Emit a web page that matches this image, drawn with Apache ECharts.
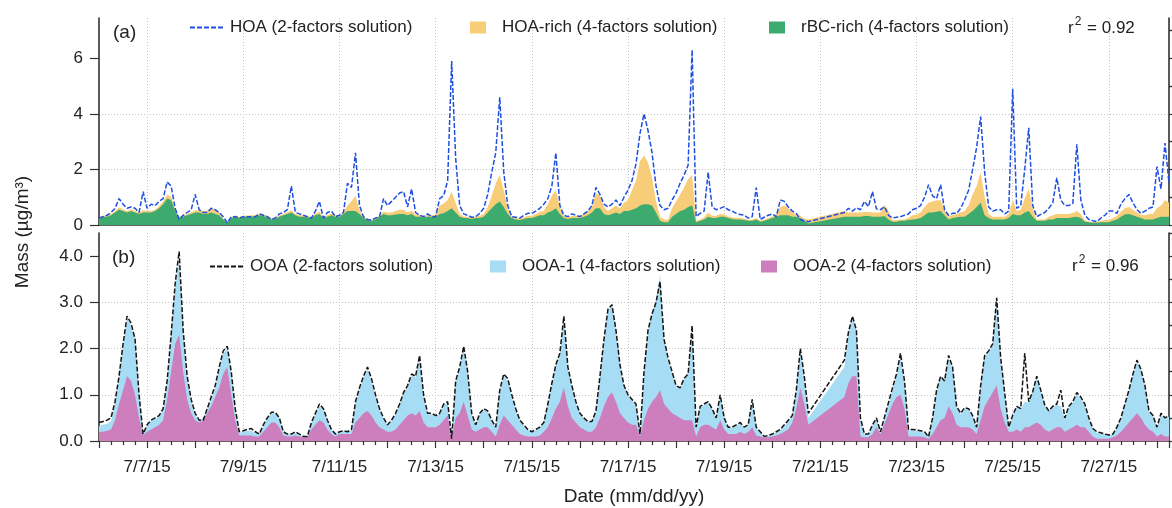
<!DOCTYPE html>
<html><head><meta charset="utf-8">
<script src="https://cdn.jsdelivr.net/npm/echarts@6/dist/echarts.min.js"></script>
<style>html,body{margin:0;padding:0;background:#fff}#c{width:1172px;height:508px}</style>
</head><body><div id="c"></div>
<script>
// x positions: days since 7/1/15 00:00; samples every 2 hours from 7/6/15 00:00
const START_DAY = 5;
const STEP_DAYS = 1 / 12;
const X_MIN = 5, X_MAX = 27.25;
const xTickLabels = ['7/7/15','7/9/15','7/11/15','7/13/15','7/15/15','7/17/15','7/19/15','7/21/15','7/23/15','7/25/15','7/27/15'];
const xTickDays = [6,8,10,12,14,16,18,20,22,24,26];
const yTicksA = [0,2,4,6];
const yTicksB = [0,1,2,3,4];

// Panel (a): HOA from 2-factor solution (ug/m3)
const hoa2f = [
0.25,0.3,0.35,0.45,0.6,0.95,0.75,0.6,0.65,0.6,0.45,1.2,
0.6,0.75,0.7,0.85,0.95,1.55,1.4,0.6,0.2,0.35,0.45,0.55,
1.1,0.55,0.45,0.45,0.6,0.55,0.45,0.3,0.08,0.3,0.3,0.25,
0.3,0.3,0.3,0.3,0.4,0.35,0.3,0.2,0.25,0.4,0.45,0.55,
1.4,0.45,0.4,0.35,0.3,0.25,0.5,0.85,0.25,0.45,0.5,0.3,
0.35,0.45,1.5,1.35,2.6,0.7,0.3,0.2,0.18,0.25,0.3,0.95,
0.7,0.85,1.0,1.15,1.2,0.65,1.3,0.45,0.35,0.3,0.4,0.3,
0.3,0.95,1.05,1.6,5.9,2.4,0.7,0.4,0.35,0.28,0.3,0.42,
0.6,1.1,1.9,2.6,4.6,1.9,0.7,0.3,0.28,0.25,0.35,0.42,
0.42,0.5,0.6,0.75,0.95,1.4,2.6,0.7,0.35,0.3,0.4,0.35,
0.3,0.4,0.5,0.7,1.35,1.1,0.75,0.65,0.75,0.9,0.7,1.0,
1.25,1.6,2.2,3.3,4.0,3.4,2.6,1.4,0.7,0.55,0.6,0.9,
1.15,1.5,1.8,2.15,6.3,0.3,0.42,0.5,1.9,0.65,0.55,0.6,
0.66,0.55,0.5,0.42,0.38,0.35,0.25,0.3,1.35,0.2,0.28,0.35,
0.4,0.3,0.9,0.85,0.65,0.5,0.42,0.2,0.15,0.12,null,null,
null,null,null,null,null,null,0.45,0.6,0.5,0.62,0.55,0.85,
0.66,1.2,0.58,0.55,0.66,0.35,0.25,0.28,0.3,0.35,0.4,0.55,
0.6,0.7,1.0,1.45,1.05,0.95,1.45,0.55,0.35,0.42,0.42,0.6,
0.9,1.25,2.0,2.8,3.9,1.9,0.65,0.5,0.55,0.55,0.4,0.5,
4.9,0.6,0.7,2.0,3.5,0.7,0.3,0.38,0.45,0.6,0.8,1.7,
0.9,0.7,0.7,0.78,2.9,0.9,0.35,0.2,0.15,0.12,0.25,0.35,
0.5,0.5,0.42,0.75,0.95,1.1,0.8,0.55,0.42,0.5,0.6,0.65,
2.1,1.3,2.95,1.5
];
// HOA-rich (4-factor)
const hoaRich = [
0.03,0.03,0.04,0.05,0.05,0.08,0.06,0.05,0.06,0.05,0.05,0.08,
0.05,0.05,0.05,0.08,0.1,0.15,0.12,0.08,0.05,0.05,0.05,0.06,
0.08,0.08,0.1,0.12,0.18,0.15,0.1,0.05,0.02,0.04,0.05,0.04,
0.04,0.04,0.05,0.05,0.06,0.06,0.05,0.04,0.04,0.05,0.05,0.06,
0.08,0.05,0.05,0.05,0.04,0.04,0.06,0.08,0.04,0.05,0.06,0.05,
0.05,0.08,0.2,0.35,0.55,0.15,0.05,0.03,0.03,0.04,0.05,0.08,
0.1,0.1,0.12,0.15,0.15,0.1,0.12,0.08,0.06,0.05,0.06,0.06,
0.06,0.3,0.35,0.4,0.6,0.35,0.1,0.06,0.05,0.05,0.06,0.08,
0.1,0.2,0.45,0.75,0.95,0.6,0.2,0.06,0.05,0.05,0.06,0.08,
0.08,0.1,0.12,0.15,0.3,0.55,0.65,0.25,0.08,0.06,0.07,0.07,
0.07,0.1,0.15,0.2,0.55,0.45,0.25,0.15,0.2,0.25,0.2,0.3,
0.4,0.7,1.0,1.6,1.75,1.5,1.0,0.4,0.15,0.1,0.1,0.3,
0.45,0.6,0.8,1.0,1.1,0.05,0.05,0.08,0.15,0.08,0.08,0.1,
0.08,0.06,0.06,0.05,0.05,0.05,0.04,0.04,0.05,0.03,0.04,0.05,
0.06,0.1,0.3,0.35,0.25,0.15,0.1,0.08,0.08,0.15,null,null,
null,null,null,null,null,null,0.2,0.15,0.15,0.15,0.15,0.15,
0.15,0.15,0.15,0.15,0.4,0.3,0.05,0.05,0.05,0.05,0.08,0.15,
0.15,0.2,0.3,0.35,0.4,0.4,0.4,0.2,0.1,0.12,0.12,0.15,
0.2,0.3,0.6,0.75,1.1,0.65,0.15,0.1,0.1,0.1,0.1,0.15,
0.5,0.15,0.2,0.5,0.8,0.3,0.05,0.05,0.05,0.1,0.15,0.15,
0.15,0.15,0.15,0.15,0.2,0.15,0.05,0.03,0.03,0.03,0.05,0.08,
0.08,0.1,0.12,0.18,0.22,0.25,0.2,0.15,0.12,0.15,0.2,0.2,
0.35,0.4,0.6,0.5
];
// rBC-rich (4-factor)
const rbcRich = [
0.25,0.3,0.3,0.35,0.45,0.55,0.5,0.45,0.5,0.45,0.4,0.45,
0.45,0.45,0.5,0.6,0.75,0.95,0.9,0.5,0.25,0.3,0.35,0.4,
0.45,0.45,0.4,0.4,0.45,0.4,0.35,0.2,0.08,0.25,0.3,0.25,
0.3,0.3,0.3,0.3,0.35,0.32,0.28,0.2,0.22,0.3,0.35,0.4,
0.45,0.35,0.3,0.3,0.28,0.25,0.35,0.4,0.25,0.3,0.35,0.3,
0.3,0.4,0.5,0.5,0.5,0.4,0.25,0.18,0.15,0.2,0.3,0.4,
0.35,0.35,0.38,0.4,0.4,0.35,0.4,0.3,0.3,0.28,0.3,0.3,
0.3,0.4,0.42,0.5,0.6,0.45,0.3,0.25,0.25,0.22,0.25,0.25,
0.3,0.45,0.6,0.75,0.85,0.65,0.4,0.25,0.2,0.18,0.22,0.25,
0.25,0.3,0.35,0.35,0.45,0.5,0.6,0.4,0.25,0.22,0.25,0.25,
0.25,0.3,0.35,0.45,0.6,0.6,0.4,0.35,0.4,0.45,0.4,0.5,
0.5,0.55,0.6,0.7,0.75,0.75,0.7,0.45,0.15,0.1,0.1,0.3,
0.4,0.5,0.55,0.65,0.7,0.1,0.15,0.2,0.3,0.25,0.25,0.3,
0.3,0.25,0.22,0.2,0.2,0.18,0.15,0.15,0.2,0.12,0.15,0.2,
0.25,0.3,0.35,0.35,0.35,0.3,0.3,0.25,0.15,0.05,null,null,
null,null,null,null,null,null,0.3,0.3,0.3,0.3,0.3,0.32,
0.32,0.3,0.3,0.3,0.32,0.2,0.12,0.12,0.15,0.15,0.18,0.2,
0.22,0.25,0.35,0.45,0.45,0.48,0.5,0.35,0.2,0.25,0.28,0.3,
0.3,0.4,0.5,0.65,0.8,0.35,0.25,0.2,0.2,0.2,0.2,0.25,
0.4,0.35,0.35,0.45,0.5,0.3,0.15,0.15,0.15,0.2,0.2,0.25,
0.25,0.25,0.25,0.28,0.3,0.25,0.12,0.1,0.08,0.08,0.1,0.1,
0.1,0.15,0.2,0.3,0.38,0.4,0.35,0.3,0.25,0.2,0.2,0.2,
0.25,0.3,0.3,0.3
];
// Panel (b): OOA from 2-factor solution
const ooa2f = [
0.4,0.42,0.45,0.5,0.85,1.4,2.1,2.7,2.55,2.2,1.0,0.15,
0.35,0.45,0.5,0.55,0.7,1.3,2.3,3.4,4.1,2.4,1.4,0.9,
0.6,0.45,0.45,0.7,0.95,1.2,1.6,1.95,2.05,1.5,0.7,0.2,
0.22,0.25,0.27,0.2,0.15,0.35,0.5,0.62,0.62,0.5,0.2,0.15,
0.15,0.2,0.15,0.1,0.1,0.4,0.6,0.8,0.7,0.45,0.25,0.15,
0.2,0.22,0.2,0.25,0.85,1.15,1.4,1.6,1.35,1.0,0.7,0.5,
0.35,0.45,0.6,0.8,1.05,1.2,1.45,1.4,1.85,1.0,0.6,0.6,
0.55,0.6,0.8,0.85,0.05,1.3,1.6,2.05,1.5,0.6,0.35,0.6,
0.7,0.65,0.45,0.3,1.1,1.45,1.35,1.0,0.7,0.45,0.35,0.25,
0.2,0.25,0.3,0.4,0.8,1.25,1.65,1.9,2.7,1.6,1.2,0.85,
0.6,0.5,0.42,0.42,0.65,1.4,2.2,2.85,2.95,2.4,1.65,1.2,
1.0,0.9,0.8,0.15,1.5,2.4,2.75,3.0,3.45,2.2,1.8,1.5,
1.2,1.15,1.35,1.45,2.5,0.3,0.75,0.8,0.85,0.7,0.5,1.0,
0.5,0.3,0.3,0.35,0.4,0.3,0.35,0.9,0.3,0.2,0.1,0.12,
0.15,0.2,0.25,0.35,0.45,0.55,1.1,2.0,1.4,0.6,null,null,
null,null,null,null,null,null,1.75,2.35,2.7,2.4,0.5,0.15,
0.15,0.35,0.5,0.2,null,null,1.15,1.45,1.9,1.3,0.25,0.25,
0.24,0.22,0.2,0.09,0.5,1.1,1.4,1.3,1.85,1.6,0.75,0.6,
0.72,0.7,0.55,0.3,1.2,1.85,1.95,2.1,3.1,1.8,1.04,0.3,
0.56,0.75,0.7,1.9,0.85,1.07,1.4,1.1,0.78,0.65,0.75,0.8,
1.1,0.5,0.75,0.85,1.05,0.95,0.8,0.5,0.27,0.2,0.18,0.15,
0.13,0.15,0.3,0.5,0.8,1.1,1.45,1.75,1.55,1.2,0.65,0.55,
0.3,0.6,0.5,0.55
];
// OOA-1 (4-factor)
const ooa1 = [
0.12,0.15,0.15,0.18,0.35,0.55,0.95,1.25,1.2,1.15,0.45,0.05,
0.12,0.18,0.18,0.18,0.22,0.35,0.75,1.2,1.6,0.85,0.45,0.25,
0.1,0.05,0.05,0.08,0.15,0.2,0.4,0.45,0.4,0.45,0.2,0.05,
0.08,0.1,0.1,0.08,0.05,0.12,0.18,0.2,0.2,0.18,0.06,0.04,
0.04,0.06,0.04,0.02,0.02,0.14,0.22,0.3,0.28,0.18,0.08,0.05,
0.05,0.06,0.05,0.08,0.4,0.6,0.75,0.9,0.75,0.55,0.38,0.23,
0.14,0.24,0.33,0.43,0.57,0.62,0.82,0.82,1.15,0.55,0.28,0.28,
0.24,0.24,0.33,0.28,0,0.75,0.95,1.15,0.9,0.33,0.14,0.33,
0.38,0.33,0.23,0.18,0.7,0.85,0.85,0.62,0.43,0.28,0.22,0.14,
0.09,0.14,0.17,0.19,0.48,0.72,0.92,1.02,1.5,0.82,0.68,0.43,
0.28,0.24,0.21,0.21,0.33,0.87,1.42,1.87,1.92,1.52,1.02,0.68,
0.58,0.53,0.43,0.05,1.02,1.67,1.9,2.1,2.5,1.38,1.08,0.88,
0.63,0.63,0.88,0.98,2.0,0.18,0.42,0.43,0.48,0.38,0.23,0.52,
0.23,0.13,0.13,0.18,0.18,0.13,0.13,0.55,0.16,0.08,0.02,0.03,
0.04,0.06,0.08,0.12,0.18,0.13,0.35,0.8,0.55,0.15,null,null,
null,null,null,null,null,null,0.65,1.05,1.3,1.0,0.35,0.06,
0.06,0.18,0.18,0.05,null,null,0.3,0.45,0.85,0.55,0.13,0.13,
0.12,0.1,0.1,0.03,0.33,0.77,0.92,0.78,1.05,0.95,0.38,0.28,
0.4,0.38,0.28,0.13,0.72,1.08,1.02,1.02,1.8,1.05,0.6,0.08,
0.33,0.48,0.48,0.55,0.53,0.7,0.98,0.73,0.5,0.43,0.48,0.48,
0.45,0.28,0.48,0.53,0.68,0.62,0.48,0.28,0.15,0.13,0.12,0.1,
0.07,0.07,0.16,0.28,0.48,0.68,0.92,1.12,1.02,0.82,0.38,0.33,
0.18,0.42,0.38,0.43
];
// OOA-2 (4-factor)
const ooa2 = [
0.2,0.2,0.22,0.25,0.45,0.8,1.1,1.4,1.3,1.0,0.5,0.12,
0.2,0.25,0.3,0.35,0.45,0.9,1.5,2.1,2.3,1.5,0.9,0.6,
0.45,0.4,0.45,0.6,0.75,0.95,1.15,1.45,1.6,1.0,0.45,0.12,
0.12,0.12,0.12,0.1,0.1,0.2,0.3,0.4,0.4,0.3,0.12,0.1,
0.1,0.12,0.1,0.08,0.08,0.25,0.35,0.45,0.4,0.25,0.15,0.1,
0.15,0.15,0.15,0.15,0.4,0.5,0.6,0.65,0.55,0.4,0.3,0.25,
0.2,0.2,0.25,0.35,0.45,0.55,0.6,0.55,0.65,0.4,0.3,0.3,
0.3,0.35,0.45,0.55,0.05,0.5,0.6,0.85,0.55,0.25,0.2,0.25,
0.3,0.3,0.2,0.1,0.35,0.55,0.45,0.35,0.25,0.15,0.12,0.1,
0.1,0.1,0.12,0.2,0.3,0.5,0.7,0.85,1.15,0.75,0.5,0.4,
0.3,0.25,0.2,0.2,0.3,0.5,0.75,0.95,1.05,0.85,0.6,0.5,
0.4,0.35,0.35,0.1,0.45,0.7,0.85,0.95,1.1,0.8,0.7,0.6,
0.55,0.5,0.45,0.45,0.45,0.1,0.3,0.35,0.35,0.3,0.25,0.45,
0.25,0.15,0.15,0.15,0.2,0.15,0.2,0.3,0.12,0.1,0.08,0.08,
0.1,0.12,0.15,0.2,0.25,0.4,0.7,1.15,0.8,0.35,null,null,
null,null,null,null,null,null,0.95,1.25,1.4,1.4,0.1,0.08,
0.08,0.15,0.3,0.15,null,null,0.8,0.95,1.0,0.7,0.1,0.1,
0.1,0.1,0.08,0.05,0.15,0.3,0.45,0.5,0.75,0.6,0.35,0.3,
0.3,0.3,0.25,0.15,0.45,0.75,0.9,1.05,1.2,0.7,0.4,0.2,
0.2,0.25,0.2,0.3,0.3,0.35,0.4,0.35,0.25,0.2,0.25,0.3,
0.3,0.2,0.25,0.3,0.35,0.3,0.3,0.2,0.1,0.05,0.05,0.05,
0.05,0.08,0.12,0.2,0.3,0.4,0.5,0.6,0.5,0.35,0.25,0.2,
0.1,0.15,0.1,0.1
];

const C = {
  hoa: '#1f4fe2', hoaRich: '#f7cd7a', rbc: '#3dab6d',
  ooa: '#141414', ooa1: '#a6dcf4', ooa2: '#cd7ebd',
  axis: '#333333', text: '#222222', grid: '#c4c4c4'
};
const FONT = 'Liberation Sans, Arial, Helvetica, sans-serif';

// sampling gaps (null) are left out, so the line and areas bridge them straight
function pts(arr) {
  const out = [];
  arr.forEach((v, i) => { if (v !== null) out.push([START_DAY + i * STEP_DAYS, v]); });
  return out;
}
// stacked table for the areas: upper factor is drawn on top of the lower one
function stackOn(upper, lower) {
  return upper.map((v, i) => (v === null || lower[i] === null) ? null : +(v + lower[i]).toFixed(3));
}

const axisLineStyle = { color: C.axis, width: 1.6 };
const tickLineStyle = { color: C.axis, width: 1.2 };
const gridLine = { type: [1, 2], color: C.grid, width: 1 };

function xAxisFor(gi, withLabels) {
  return {
    type: 'value', gridIndex: gi, min: X_MIN, max: X_MAX, interval: 1,
    axisLine: { show: true, onZero: false, lineStyle: axisLineStyle },
    axisTick: { show: withLabels, length: 7, lineStyle: tickLineStyle },
    minorTick: { show: withLabels, splitNumber: 4, length: 4, lineStyle: tickLineStyle },
    axisLabel: {
      show: withLabels, margin: 18, fontSize: 17, fontFamily: FONT, color: C.text,
      formatter: v => { const k = xTickDays.indexOf(v); return k >= 0 ? xTickLabels[k] : ''; }
    },
    splitLine: { show: true, lineStyle: { type: [1, 2], width: 1, color: ['rgba(0,0,0,0)', C.grid] } },
    name: withLabels ? 'Date (mm/dd/yy)' : '',
    nameLocation: 'middle', nameGap: 46,
    nameTextStyle: { fontSize: 19, fontFamily: FONT, color: C.text }
  };
}

function yAxesFor(gi, max, majorVals, minorVals, rightVals, fmt) {
  return [
    { type: 'value', gridIndex: gi, min: 0, max: max, interval: majorVals[1] - majorVals[0],
      axisLine: { show: true, onZero: false, lineStyle: axisLineStyle },
      axisTick: { show: true, length: 9, customValues: majorVals, lineStyle: tickLineStyle },
      axisLabel: { show: true, customValues: majorVals, margin: 16, fontSize: 17, fontFamily: FONT, color: C.text, formatter: fmt },
      splitLine: { show: true, showMinLine: false, showMaxLine: false, lineStyle: gridLine } },
    { type: 'value', gridIndex: gi, min: 0, max: max,
      axisLine: { show: false, onZero: false },
      axisTick: { show: true, length: 5, customValues: minorVals, lineStyle: tickLineStyle },
      axisLabel: { show: false }, splitLine: { show: false } },
    { type: 'value', gridIndex: gi, position: 'right', min: 0, max: max,
      axisLine: { show: true, onZero: false, lineStyle: axisLineStyle },
      axisTick: { show: true, length: 5, customValues: rightVals, lineStyle: tickLineStyle },
      axisLabel: { show: false }, splitLine: { show: false } }
  ];
}

function areaSeries(name, data, color, xi, yi) {
  return { name, type: 'line', xAxisIndex: xi, yAxisIndex: yi, data: pts(data),
    showSymbol: false, symbol: 'none', color,
    lineStyle: { width: 0 }, areaStyle: { color, opacity: 1, origin: 'start' }, z: 2, silent: true };
}
function lineSeries(name, data, color, xi, yi) {
  return { name, type: 'line', xAxisIndex: xi, yAxisIndex: yi, data: pts(data),
    showSymbol: false, symbol: 'none', color,
    lineStyle: { color, width: 1.5, type: [5, 2] }, z: 3, silent: true };
}

const legendText = { fontSize: 17, fontFamily: FONT, color: C.text };
function legendItem(name, left, top, isLine) {
  const l = { data: [name], left, top, padding: 0, selectedMode: false,
    itemWidth: isLine ? 33 : 16, itemHeight: 12,
    textStyle: Object.assign({ padding: isLine ? [0, 0, 0, 2] : [0, 0, 0, 11] }, legendText) };
  if (isLine) l.itemStyle = { opacity: 0 };
  else l.icon = 'rect';
  return l;
}

function r2Title(val, left, top) {
  return { text: '{a|r}{s|2}{a| = ' + val + '}', left, top, padding: 0,
    textStyle: { fontWeight: 'normal', rich: {
      a: { fontSize: 17, fontWeight: 'normal', fontFamily: FONT, color: C.text },
      s: { fontSize: 12, fontWeight: 'normal', fontFamily: FONT, color: C.text, padding: [0, 1, 12, 1] } } } };
}
function panelTitle(t, left, top) {
  return { text: t, left, top, padding: 0,
    textStyle: { fontSize: 19, fontWeight: 'normal', fontFamily: FONT, color: C.text } };
}

const names = {
  hoa: 'HOA (2-factors solution)', hoaRich: 'HOA-rich (4-factors solution)', rbc: 'rBC-rich (4-factors solution)',
  ooa: 'OOA (2-factors solution)', ooa1: 'OOA-1 (4-factors solution)', ooa2: 'OOA-2 (4-factors solution)'
};

const option = {
  animation: false,
  backgroundColor: '#ffffff',
  grid: [
    { left: 99, right: 3, top: 18, height: 207 },
    { left: 99, right: 3, top: 233, height: 208 }
  ],
  xAxis: [xAxisFor(0, false), xAxisFor(1, true)],
  yAxis: [].concat(
    yAxesFor(0, 7.45, yTicksA, [1, 3, 5, 7], [0, 1, 2, 3, 4, 5, 6, 7], v => String(v)),
    yAxesFor(1, 4.5, yTicksB, [0.5, 1.5, 2.5, 3.5, 4.5], [0, 0.5, 1, 1.5, 2, 2.5, 3, 3.5, 4, 4.5], v => v.toFixed(1))
  ),
  legend: [
    legendItem(names.hoa, 189, 19, true),
    legendItem(names.hoaRich, 470, 19, false),
    legendItem(names.rbc, 769, 19, false),
    legendItem(names.ooa, 209, 258, true),
    legendItem(names.ooa1, 490, 258, false),
    legendItem(names.ooa2, 761, 258, false)
  ],
  title: [
    panelTitle('(a)', 113, 23),
    panelTitle('(b)', 112, 248),
    r2Title('0.92', 1068, 16),
    r2Title('0.96', 1072, 254)
  ],
  graphic: [{
    type: 'text', x: 23, y: 232, rotation: Math.PI / 2,
    style: { text: 'Mass (µg/m³)', fontSize: 19, fontFamily: FONT, fill: C.text, align: 'center', verticalAlign: 'middle' }
  }],
  series: [
    areaSeries(names.hoaRich, stackOn(hoaRich, rbcRich), C.hoaRich, 0, 0),
    areaSeries(names.rbc, rbcRich, C.rbc, 0, 0),
    lineSeries(names.hoa, hoa2f, C.hoa, 0, 0),
    areaSeries(names.ooa1, stackOn(ooa1, ooa2), C.ooa1, 1, 3),
    areaSeries(names.ooa2, ooa2, C.ooa2, 1, 3),
    lineSeries(names.ooa, ooa2f, C.ooa, 1, 3)
  ]
};

const chart = echarts.init(document.getElementById('c'), null, { renderer: 'canvas' });
chart.setOption(option);
</script>
</body></html>
